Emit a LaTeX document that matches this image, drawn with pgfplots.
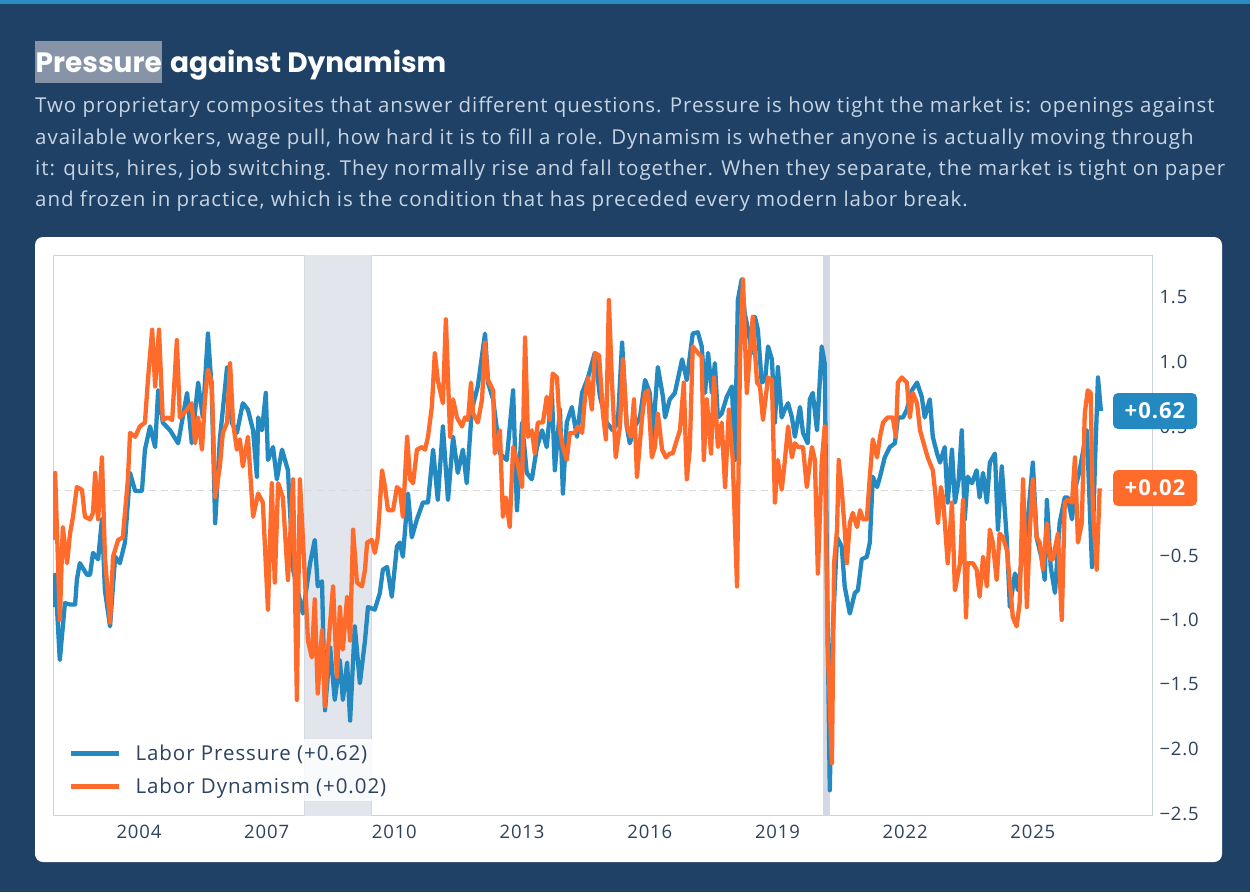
\documentclass[border=0pt]{standalone}
\usepackage{pgfplots}
\pgfplotsset{compat=1.18}
\usepackage{pgfplotstable}
\usepackage{fontspec}
\setmainfont{Open Sans}
\newfontfamily\parafont{Open Sans}[LetterSpace=4.6]
\newfontfamily\titlefont{Poppins}
\definecolor{bg}{HTML}{1F4165}
\definecolor{topline}{HTML}{2B8CC4}
\definecolor{para}{HTML}{C7D4E4}
\definecolor{hl}{HTML}{8794A8}
\definecolor{pblue}{HTML}{2389C0}
\definecolor{porange}{HTML}{FF6B2B}
\definecolor{axisc}{HTML}{C9D3E0}
\definecolor{tickc}{HTML}{2C4260}
\definecolor{band}{HTML}{E2E6EC}
\definecolor{bandedge}{HTML}{D3D9E2}

\pgfplotstableread{
year val
2001.98 -0.90
2002.03 -0.65
2002.14 -1.31
2002.26 -0.87
2002.38 -0.88
2002.50 -0.88
2002.54 -0.69
2002.61 -0.56
2002.78 -0.65
2002.85 -0.65
2002.92 -0.48
2003.04 -0.53
2003.13 -0.22
2003.20 -0.77
2003.32 -1.05
2003.44 -0.51
2003.55 -0.56
2003.67 -0.40
2003.79 0.14
2003.91 0.00
2004.07 0.00
2004.14 0.32
2004.26 0.50
2004.38 0.34
2004.45 0.78
2004.56 0.53
2004.73 0.47
2004.92 0.37
2005.13 0.76
2005.24 0.37
2005.39 0.84
2005.50 0.57
2005.62 1.22
2005.71 0.78
2005.79 -0.25
2005.90 0.40
2006.07 0.96
2006.18 0.53
2006.30 0.45
2006.44 0.68
2006.56 0.63
2006.68 0.47
2006.77 0.11
2006.80 0.57
2006.89 0.47
2006.98 0.76
2007.03 0.24
2007.15 0.34
2007.24 0.09
2007.36 0.32
2007.50 0.16
2007.62 -0.61
2007.85 -0.95
2008.02 -0.56
2008.13 -0.38
2008.20 -0.74
2008.30 -0.70
2008.37 -1.70
2008.49 -1.21
2008.60 -1.62
2008.72 -1.31
2008.79 -1.62
2008.89 -1.33
2008.96 -1.78
2009.07 -1.05
2009.19 -1.49
2009.31 -1.16
2009.38 -0.90
2009.54 -0.92
2009.66 -0.79
2009.73 -0.61
2009.83 -0.59
2009.94 -0.82
2010.06 -0.43
2010.13 -0.40
2010.20 -0.51
2010.32 -0.02
2010.41 -0.36
2010.53 -0.22
2010.67 -0.09
2010.79 -0.09
2010.91 0.32
2011.02 -0.07
2011.14 0.50
2011.26 -0.07
2011.38 0.42
2011.49 0.14
2011.61 0.32
2011.70 0.06
2011.82 0.63
2011.96 0.81
2012.13 1.22
2012.20 0.84
2012.32 0.71
2012.48 0.29
2012.64 0.24
2012.79 0.78
2012.88 -0.15
2013.00 0.53
2013.11 0.14
2013.23 0.09
2013.35 0.34
2013.47 0.47
2013.58 0.34
2013.70 0.76
2013.77 0.16
2013.89 0.63
2013.96 -0.02
2014.05 0.53
2014.17 0.65
2014.29 0.42
2014.41 0.76
2014.55 0.88
2014.71 1.07
2014.83 0.73
2014.99 0.53
2015.13 0.47
2015.25 0.53
2015.35 1.15
2015.46 0.50
2015.53 0.37
2015.65 0.50
2015.77 0.57
2015.89 0.86
2016.00 0.76
2016.07 0.42
2016.19 0.96
2016.31 0.73
2016.36 0.57
2016.47 0.71
2016.59 0.76
2016.76 1.02
2016.87 0.86
2017.01 1.22
2017.13 1.23
2017.22 1.12
2017.30 0.76
2017.37 1.07
2017.46 0.76
2017.53 0.99
2017.60 0.57
2017.69 0.60
2017.81 0.73
2017.93 0.81
2018.00 0.24
2018.07 1.48
2018.16 1.64
2018.23 1.38
2018.31 1.25
2018.40 1.07
2018.47 1.35
2018.54 1.25
2018.63 0.84
2018.71 0.86
2018.78 1.12
2018.87 1.02
2018.94 0.53
2019.01 0.96
2019.10 0.57
2019.17 0.63
2019.25 0.68
2019.34 0.57
2019.41 0.42
2019.53 0.65
2019.60 0.45
2019.71 0.37
2019.76 0.71
2019.83 0.76
2019.93 0.47
2020.04 1.12
2020.11 0.99
2020.18 -1.08
2020.23 -2.32
2020.30 -1.08
2020.40 -0.36
2020.51 -0.43
2020.58 -0.74
2020.70 -0.95
2020.82 -0.79
2020.89 -0.77
2020.98 -0.53
2021.10 -0.51
2021.17 -0.40
2021.24 0.11
2021.34 0.03
2021.41 0.11
2021.52 0.26
2021.64 0.34
2021.76 0.37
2021.83 0.57
2021.95 0.57
2022.04 0.63
2022.16 0.78
2022.28 0.84
2022.39 0.73
2022.46 0.57
2022.58 0.71
2022.65 0.42
2022.75 0.29
2022.82 0.22
2022.93 0.34
2023.00 -0.09
2023.10 0.32
2023.17 -0.09
2023.26 0.09
2023.33 0.47
2023.40 -0.22
2023.47 0.11
2023.57 0.06
2023.68 0.16
2023.75 -0.05
2023.83 0.14
2023.92 -0.09
2023.99 0.22
2024.11 0.29
2024.18 -0.30
2024.27 0.19
2024.39 -0.38
2024.46 -0.90
2024.58 -0.64
2024.65 -0.77
2024.77 -0.46
2024.86 -0.30
2025.00 0.22
2025.09 -0.36
2025.21 -0.53
2025.28 -0.69
2025.33 -0.07
2025.42 -0.59
2025.52 -0.79
2025.63 -0.25
2025.75 -0.05
2025.82 -0.05
2025.92 -0.22
2025.99 0.01
2026.10 0.16
2026.27 0.47
2026.39 -0.59
2026.46 0.22
2026.53 0.88
2026.60 0.62
}\pressure

\pgfplotstableread{
year val
2001.98 -0.38
2002.03 0.14
2002.14 -1.00
2002.21 -0.28
2002.31 -0.56
2002.38 -0.33
2002.45 -0.20
2002.54 0.03
2002.66 0.01
2002.73 -0.20
2002.85 -0.22
2002.92 -0.17
2002.97 0.14
2003.04 -0.22
2003.13 0.26
2003.20 -0.51
2003.32 -1.02
2003.39 -0.51
2003.51 -0.38
2003.62 -0.36
2003.74 0.09
2003.79 0.45
2003.91 0.42
2004.02 0.50
2004.14 0.53
2004.21 0.86
2004.31 1.25
2004.38 0.81
2004.47 1.25
2004.56 0.55
2004.68 0.57
2004.78 0.55
2004.89 1.17
2004.96 0.57
2005.13 0.63
2005.24 0.68
2005.32 0.37
2005.39 0.57
2005.48 0.32
2005.55 0.71
2005.62 0.94
2005.71 0.84
2005.79 -0.05
2005.90 0.19
2005.97 0.45
2006.07 0.53
2006.14 0.99
2006.21 0.53
2006.30 0.32
2006.37 0.40
2006.44 0.19
2006.56 0.42
2006.68 -0.20
2006.80 -0.02
2006.91 -0.09
2007.03 -0.92
2007.12 0.06
2007.19 -0.71
2007.27 0.06
2007.38 -0.05
2007.50 -0.69
2007.62 0.09
2007.71 -1.62
2007.78 0.09
2007.90 -0.69
2007.97 -1.16
2008.06 -1.29
2008.13 -0.84
2008.20 -1.57
2008.30 -1.08
2008.37 -1.67
2008.44 -1.23
2008.56 -0.74
2008.65 -1.44
2008.72 -0.90
2008.79 -1.23
2008.89 -0.82
2008.96 -1.16
2009.03 -0.30
2009.12 -0.71
2009.24 -0.74
2009.31 -0.61
2009.36 -0.40
2009.47 -0.38
2009.54 -0.48
2009.61 -0.36
2009.71 0.16
2009.78 0.03
2009.85 -0.15
2009.97 -0.15
2010.06 0.03
2010.13 0.01
2010.20 -0.20
2010.30 0.42
2010.37 0.09
2010.44 0.06
2010.53 0.32
2010.65 0.34
2010.72 0.32
2010.79 0.42
2010.88 0.65
2010.95 1.07
2011.02 0.86
2011.14 0.68
2011.21 1.33
2011.31 0.42
2011.38 0.71
2011.47 0.57
2011.59 0.50
2011.66 0.57
2011.73 0.55
2011.80 0.84
2011.85 0.60
2011.96 0.53
2012.06 0.71
2012.13 1.15
2012.20 0.86
2012.32 0.78
2012.36 0.29
2012.48 0.47
2012.55 -0.20
2012.62 -0.05
2012.71 -0.28
2012.79 0.34
2012.88 0.24
2013.00 0.03
2013.07 1.19
2013.14 0.42
2013.23 0.47
2013.30 0.29
2013.37 0.53
2013.49 0.53
2013.58 0.73
2013.65 0.55
2013.72 0.91
2013.82 0.88
2013.89 0.47
2013.96 0.34
2014.05 0.24
2014.12 0.45
2014.24 0.45
2014.31 0.50
2014.41 0.45
2014.48 0.73
2014.55 0.88
2014.64 0.63
2014.71 1.07
2014.81 1.05
2014.90 0.60
2014.97 0.40
2015.04 1.48
2015.11 0.86
2015.20 0.26
2015.30 0.50
2015.37 1.02
2015.46 0.50
2015.56 0.42
2015.63 0.71
2015.70 0.11
2015.82 0.57
2015.89 0.76
2015.96 0.78
2016.05 0.26
2016.12 0.34
2016.19 0.60
2016.29 0.32
2016.38 0.26
2016.47 0.29
2016.54 0.29
2016.64 0.40
2016.71 0.47
2016.80 0.84
2016.87 0.09
2016.94 0.32
2017.01 1.12
2017.13 1.07
2017.22 1.04
2017.27 0.24
2017.34 0.71
2017.44 0.29
2017.51 0.88
2017.60 0.34
2017.69 0.53
2017.77 0.03
2017.86 0.63
2017.95 0.24
2018.05 -0.74
2018.12 1.02
2018.19 1.64
2018.28 0.76
2018.42 1.35
2018.52 0.84
2018.59 0.81
2018.66 0.55
2018.78 0.88
2018.87 0.86
2018.94 -0.09
2019.01 0.24
2019.10 0.01
2019.17 0.22
2019.25 0.50
2019.34 0.26
2019.41 0.37
2019.48 0.34
2019.60 0.34
2019.69 0.03
2019.81 0.34
2019.88 0.24
2019.95 -0.64
2020.04 0.22
2020.11 0.50
2020.18 -1.21
2020.28 -2.11
2020.33 -0.56
2020.40 -0.30
2020.44 0.24
2020.51 0.01
2020.58 -0.30
2020.63 -0.56
2020.70 -0.25
2020.77 -0.17
2020.87 -0.28
2020.94 -0.15
2021.01 -0.22
2021.10 -0.22
2021.17 0.11
2021.24 0.40
2021.34 0.26
2021.41 0.42
2021.48 0.53
2021.59 0.57
2021.71 0.57
2021.78 0.42
2021.83 0.84
2021.92 0.88
2022.04 0.84
2022.11 0.57
2022.18 0.76
2022.28 0.68
2022.35 0.47
2022.46 0.34
2022.53 0.26
2022.65 0.16
2022.70 0.01
2022.77 -0.25
2022.84 0.03
2022.89 -0.05
2023.00 -0.56
2023.10 -0.09
2023.17 -0.77
2023.29 -0.56
2023.36 -0.07
2023.43 -0.98
2023.47 -0.56
2023.59 -0.56
2023.68 -0.61
2023.75 -0.82
2023.83 -0.51
2023.92 -0.74
2023.99 -0.30
2024.06 -0.40
2024.15 -0.69
2024.22 -0.33
2024.30 -0.36
2024.39 -0.46
2024.46 -0.71
2024.53 -0.98
2024.62 -1.05
2024.69 -0.87
2024.77 0.09
2024.86 -0.90
2024.93 -0.30
2025.00 0.09
2025.09 -0.36
2025.16 -0.40
2025.24 -0.61
2025.33 -0.25
2025.40 -0.53
2025.47 -0.53
2025.59 -0.33
2025.68 -1.00
2025.75 -0.09
2025.82 -0.07
2025.92 -0.09
2025.99 0.26
2026.06 -0.40
2026.15 -0.25
2026.22 0.60
2026.29 0.78
2026.36 0.76
2026.41 -0.15
2026.50 -0.61
2026.57 0.02
}\dynamism

\begin{document}
\begin{tikzpicture}
\begin{scope}[x=1pt,y=-1pt]
\useasboundingbox (0,0) rectangle (1250,892);
\fill[bg] (0,0) rectangle (1250,892);
\fill[topline] (0,0) rectangle (1250,4);
\node[anchor=base west, fill=hl, inner xsep=0.5pt, inner ysep=0pt, text height=31pt, text depth=11pt, text=white,
      font=\titlefont\bfseries\fontsize{28}{32}\selectfont] (p) at (35,72) {Pressure};
\node[anchor=base west, inner sep=0pt, text=white, font=\titlefont\bfseries\fontsize{28}{32}\selectfont]
      at ([xshift=7.5pt]p.base east) {against Dynamism};
\node[anchor=base west, inner sep=0pt, text=para, font=\parafont\fontsize{20.5}{24}\selectfont] at (35,112) {Two proprietary composites that answer different questions. Pressure is how tight the market is: openings against};
\node[anchor=base west, inner sep=0pt, text=para, font=\parafont\fontsize{20.5}{24}\selectfont] at (35,144) {available workers, wage pull, how hard it is to fill a role. Dynamism is whether anyone is actually moving through};
\node[anchor=base west, inner sep=0pt, text=para, font=\parafont\fontsize{20.5}{24}\selectfont] at (35,175) {it: quits, hires, job switching. They normally rise and fall together. When they separate, the market is tight on paper};
\node[anchor=base west, inner sep=0pt, text=para, font=\parafont\fontsize{20.5}{24}\selectfont] at (35,206) {and frozen in practice, which is the condition that has preceded every modern labor break.};
\fill[white, rounded corners=8pt] (35,237) rectangle (1222,862);
\end{scope}

\begin{axis}[
  at={(53pt,-815pt)}, anchor=south west,
  width=1099pt, height=560pt, scale only axis,
  xmin=2001.98, xmax=2027.8, ymin=-2.512, ymax=1.829,
  axis line style={draw=axisc, line width=1pt},
  xtick={2004,2007,2010,2013,2016,2019,2022,2025},
  xticklabels={2004,2007,2010,2013,2016,2019,2022,2025},
  ytick={-2.5,-2,-1.5,-1,-0.5,0.5,1,1.5},
  yticklabels={−2.5,−2.0,−1.5,−1.0,−0.5,0.5,1.0,1.5},
  yticklabel pos=right,
  major tick length=0pt,
  tick style={draw=none},
  ticklabel style={font=\parafont\fontsize{18.5}{20}\selectfont, text=tickc},
  yticklabel style={xshift=4pt},
  xticklabel style={yshift=-7pt},
  legend style={at={(0.003,0.025)}, anchor=south west,
    draw=none, fill=white, fill opacity=0.8, text opacity=1,
    font=\parafont\fontsize{20.5}{22}\selectfont, text=tickc, row sep=12pt,
    inner xsep=12pt, inner ysep=4pt,
    /tikz/every odd column/.append style={column sep=12pt}},
  legend cell align=left,
  legend image code/.code={\draw[#1, line width=5pt] (0pt,0pt) -- (48pt,0pt);},
]
\addplot[draw=none, fill=band, forget plot] coordinates {(2007.9,-2.6) (2007.9,1.9) (2009.46,1.9) (2009.46,-2.6)} -- cycle;
\addplot[bandedge, line width=1pt, forget plot] coordinates {(2007.9,-2.6) (2007.9,1.9)};
\addplot[bandedge, line width=1pt, forget plot] coordinates {(2009.46,-2.6) (2009.46,1.9)};
\addplot[draw=none, fill=bandedge, forget plot] coordinates {(2020.07,-2.6) (2020.07,1.9) (2020.24,1.9) (2020.24,-2.6)} -- cycle;
\addplot[black!15, dash pattern=on 7pt off 5pt, line width=1pt, forget plot] coordinates {(2001.98,0) (2027.8,0)};
\addplot[pblue, line width=4.3pt, line join=round] table[x=year,y=val] {\pressure};
\addlegendentry{Labor Pressure (+0.62)}
\addplot[porange, line width=4.3pt, line join=round] table[x=year,y=val] {\dynamism};
\addlegendentry{Labor Dynamism (+0.02)}
\end{axis}

\begin{scope}[x=1pt,y=-1pt]
\node[fill=pblue, rounded corners=5pt, minimum width=84pt, minimum height=36pt, inner sep=0pt,
      text=white, font=\parafont\bfseries\fontsize{22}{22}\selectfont] at (1155,411) {+0.62};
\node[fill=porange, rounded corners=5pt, minimum width=84pt, minimum height=36pt, inner sep=0pt,
      text=white, font=\parafont\bfseries\fontsize{22}{22}\selectfont] at (1155,488) {+0.02};
\end{scope}
\end{tikzpicture}
\end{document}
